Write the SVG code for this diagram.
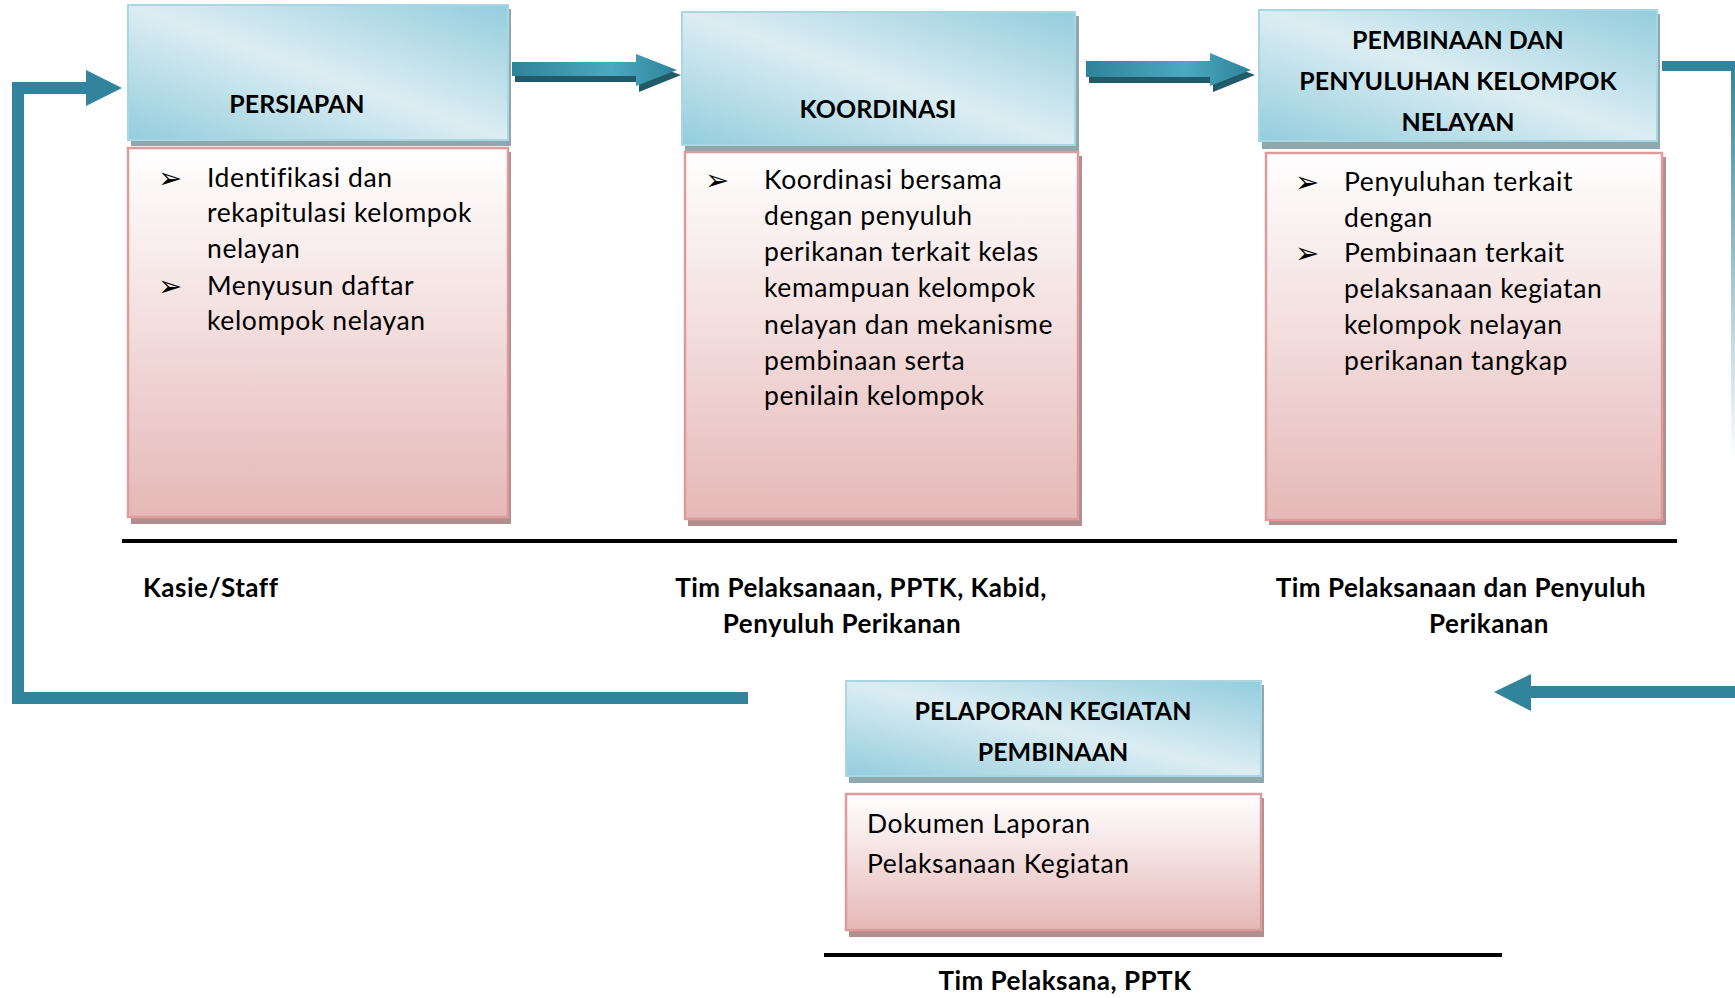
<svg xmlns="http://www.w3.org/2000/svg" width="1735" height="998" viewBox="0 0 1735 998">
  <defs>
    <linearGradient id="hdrFill" x1="1" y1="0" x2="0" y2="1">
      <stop offset="0" stop-color="#93cddd"/>
      <stop offset="0.5" stop-color="#dcedf3"/>
      <stop offset="1" stop-color="#93cddd"/>
    </linearGradient>
    <linearGradient id="bodyFill" x1="0" y1="0" x2="0" y2="1">
      <stop offset="0" stop-color="#ffffff"/>
      <stop offset="0.45" stop-color="#f4e0e0"/>
      <stop offset="1" stop-color="#e5b8b7"/>
    </linearGradient>
    <linearGradient id="arrowFill" x1="0" y1="0" x2="1" y2="0">
      <stop offset="0" stop-color="#2f8399"/>
      <stop offset="0.6" stop-color="#4aa9c2"/>
      <stop offset="1" stop-color="#2f8399"/>
    </linearGradient>
    <linearGradient id="edgeFade" x1="0" y1="0" x2="0" y2="1">
      <stop offset="0" stop-color="#31849b" stop-opacity="1"/>
      <stop offset="1" stop-color="#31849b" stop-opacity="0"/>
    </linearGradient>
    <style>
      .hdr { fill: url(#hdrFill); stroke: #a8d6e3; stroke-width: 2; }
      .hdr-shadow { fill: #8ea8ae; }
      .body { fill: url(#bodyFill); stroke: #dc9c9b; stroke-width: 2.5; }
      .body-shadow { fill: #b38e8e; }
      .title { font-family: Lato, "Liberation Sans", sans-serif; font-weight: bold; font-size: 25px; fill: #000; text-anchor: middle; }
      .txt { font-family: Lato, "Liberation Sans", sans-serif; font-size: 26.5px; letter-spacing: 0.6px; fill: #000; }
      .bullet { font-family: "DejaVu Sans", sans-serif; font-size: 29px; fill: #000; }
      .lbl { font-family: Lato, "Liberation Sans", sans-serif; font-weight: bold; font-size: 26px; letter-spacing: 0.5px; fill: #000; }
      .mid { text-anchor: middle; }
      .rule { stroke: #000; stroke-width: 4; }
      .teal { fill: #31849b; }
    </style>
  </defs>

  <rect width="1735" height="998" fill="#ffffff"/>

  <!-- connectors -->
  <g id="connectors">
    <!-- PERSIAPAN to KOORDINASI -->
    <polygon points="515,68 639,68 639,60 681,75 639,92 639,82 515,82" fill="#215a69"/>
    <polygon points="512,62 636,62 636,54 677,70 636,86 636,76 512,76" fill="url(#arrowFill)"/>
    <!-- KOORDINASI to PEMBINAAN -->
    <polygon points="1089,67 1213,67 1213,59 1255,75 1213,92 1213,83 1089,83" fill="#215a69"/>
    <polygon points="1086,61 1210,61 1210,53 1251,70 1210,86 1210,77 1086,77" fill="url(#arrowFill)"/>
    <!-- PEMBINAAN out to the right edge and down -->
    <rect class="teal" x="1662" y="61" width="73" height="10"/>
    <rect x="1731" y="61" width="4" height="400" fill="url(#edgeFade)"/>
    <!-- back towards PELAPORAN -->
    <rect class="teal" x="1530" y="686" width="205" height="12"/>
    <polygon class="teal" points="1531,674 1494,692 1531,711"/>
    <!-- loop back to PERSIAPAN -->
    <path d="M748,698 H18 V88 H88" fill="none" stroke="#31849b" stroke-width="12" stroke-linejoin="miter"/>
    <polygon class="teal" points="86,70 122,88 86,106"/>
  </g>

  <!-- responsibility rules -->
  <line class="rule" x1="122" y1="541" x2="1677" y2="541"/>
  <line class="rule" x1="824" y1="955" x2="1502" y2="955"/>

  <g id="persiapan">
    <rect class="hdr-shadow" x="131" y="9" width="380" height="137"/>
    <rect class="hdr" x="128" y="5" width="380" height="135"/>
    <text class="title" x="297" y="113">PERSIAPAN</text>
    <rect class="body-shadow" x="131" y="152" width="380" height="372"/>
    <rect class="body" x="128" y="148" width="380" height="369"/>
    <text class="bullet" x="158" y="188">➢</text>
    <text class="bullet" x="158" y="296">➢</text>
    <text class="txt" x="207" y="187">Identifikasi dan</text>
    <text class="txt" x="207" y="222">rekapitulasi kelompok</text>
    <text class="txt" x="207" y="258">nelayan</text>
    <text class="txt" x="207" y="295">Menyusun daftar</text>
    <text class="txt" x="207" y="330">kelompok nelayan</text>
  </g>

  <g id="koordinasi">
    <rect class="hdr-shadow" x="685" y="16" width="394" height="135"/>
    <rect class="hdr" x="682" y="12" width="393" height="133"/>
    <text class="title" x="878" y="118">KOORDINASI</text>
    <rect class="body-shadow" x="688" y="156" width="394" height="370"/>
    <rect class="body" x="685" y="152" width="393" height="367"/>
    <text class="bullet" x="705" y="190">➢</text>
    <text class="txt" x="764" y="189">Koordinasi bersama</text>
    <text class="txt" x="764" y="225">dengan penyuluh</text>
    <text class="txt" x="764" y="261">perikanan terkait kelas</text>
    <text class="txt" x="764" y="297">kemampuan kelompok</text>
    <text class="txt" x="764" y="334">nelayan dan mekanisme</text>
    <text class="txt" x="764" y="370">pembinaan serta</text>
    <text class="txt" x="764" y="405">penilain kelompok</text>
  </g>

  <g id="pembinaan">
    <rect class="hdr-shadow" x="1262" y="14" width="398" height="135"/>
    <rect class="hdr" x="1259" y="10" width="398" height="131"/>
    <text class="title" x="1458" y="49">PEMBINAAN DAN</text>
    <text class="title" x="1458" y="90">PENYULUHAN KELOMPOK</text>
    <text class="title" x="1458" y="131">NELAYAN</text>
    <rect class="body-shadow" x="1269" y="157" width="397" height="368"/>
    <rect class="body" x="1266" y="153" width="396" height="367"/>
    <text class="bullet" x="1295" y="192">➢</text>
    <text class="bullet" x="1295" y="263">➢</text>
    <text class="txt" x="1344" y="191">Penyuluhan terkait</text>
    <text class="txt" x="1344" y="227">dengan</text>
    <text class="txt" x="1344" y="262">Pembinaan terkait</text>
    <text class="txt" x="1344" y="298">pelaksanaan kegiatan</text>
    <text class="txt" x="1344" y="334">kelompok nelayan</text>
    <text class="txt" x="1344" y="370">perikanan tangkap</text>
  </g>

  <g id="pelaporan">
    <rect class="hdr-shadow" x="849" y="685" width="415" height="98"/>
    <rect class="hdr" x="846" y="681" width="415" height="95"/>
    <text class="title" x="1053" y="720">PELAPORAN KEGIATAN</text>
    <text class="title" x="1053" y="761">PEMBINAAN</text>
    <rect class="body-shadow" x="849" y="798" width="415" height="139"/>
    <rect class="body" x="846" y="794" width="415" height="136"/>
    <text class="txt" x="867" y="833">Dokumen Laporan</text>
    <text class="txt" x="867" y="873">Pelaksanaan Kegiatan</text>
  </g>

  <g id="labels">
    <text class="lbl" x="143" y="597">Kasie/Staff</text>
    <text class="lbl mid" x="861" y="597">Tim Pelaksanaan, PPTK, Kabid,</text>
    <text class="lbl mid" x="842" y="633">Penyuluh Perikanan</text>
    <text class="lbl mid" x="1461" y="597">Tim Pelaksanaan dan Penyuluh</text>
    <text class="lbl mid" x="1489" y="633">Perikanan</text>
    <text class="lbl mid" x="1065" y="990">Tim Pelaksana, PPTK</text>
  </g>
</svg>
